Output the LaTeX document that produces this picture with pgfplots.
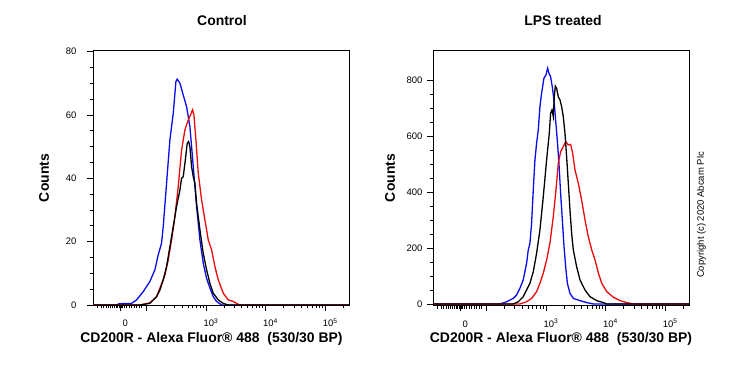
\documentclass[border=0pt]{standalone}
\usepackage{pgfplots}
\pgfplotsset{compat=1.18}
\usepackage{fontspec}
\setmainfont{Liberation Sans}
\definecolor{fblue}{RGB}{10,10,235}
\definecolor{fred}{RGB}{235,10,10}
\begin{document}
\begin{tikzpicture}
\useasboundingbox (0bp,0bp) rectangle (739bp,370bp);
\pgfplotsset{
 flow/.style={
  scale only axis, width=256bp, height=255bp,
  xmin=1.105, xmax=5.40,
  axis line style={line width=0.8pt},
  tick align=outside, tick pos=left,
  major tick length=6bp, minor tick length=3.5bp,
  every tick/.style={black, line width=0.7pt},
  xtick={1.563,2,3,4,5},
  xticklabels={0,,10\textsuperscript{3},10\textsuperscript{4},10\textsuperscript{5}},
  minor xtick={1.185,1.240,1.286,1.324,1.365,1.398,1.437,1.466,1.492,1.521,1.546,1.58,1.597,1.634,1.672,1.718,1.756,1.802,1.840,1.886,1.924,2.301,2.477,2.602,2.699,2.778,2.845,2.903,2.954,3.301,3.477,3.602,3.699,3.778,3.845,3.903,3.954,4.301,4.477,4.602,4.699,4.778,4.845,4.903,4.954,5.301},
  tick label style={font=\fontsize{9.5}{10}\selectfont},
  xticklabel style={anchor=base, xshift=5bp, yshift=-16bp},
  /pgf/number format/assume math mode=true,
  every axis plot/.append style={line width=1.3bp, no marks},
 }
}
% ---------- Control ----------
\begin{axis}[flow, at={(93bp,65bp)}, anchor=south west,
  ymin=0, ymax=80.5, ytick={0,20,40,60,80}, minor y tick num=3,
  yticklabel style={anchor=east, xshift=-7bp}]
\addplot[fblue] coordinates {
(1.105,0)(1.499,0)(1.543,0.4)(1.751,0.5)(1.835,1.6)(1.947,4.2)(2.059,7.4)(2.143,11.1)(2.199,15.8)(2.255,19.5)(2.283,24.7)(2.339,38.4)(2.395,52.1)(2.451,60.5)(2.496,70.5)(2.518,71.3)(2.563,70.0)(2.619,66.3)(2.675,62.6)(2.731,56.3)(2.787,43.7)(2.843,31.1)(2.899,20.5)(2.955,13.2)(3.011,8.4)(3.067,5.3)(3.123,2.6)(3.179,1.1)(3.263,0)(5.40,0)};
\addplot[fred] coordinates {
(1.105,0)(1.891,0)(2.059,0.7)(2.171,2.6)(2.227,5.3)(2.311,9.5)(2.367,14.2)(2.423,20.5)(2.479,27.9)(2.535,37.4)(2.591,48.9)(2.647,55.3)(2.703,58.4)(2.742,60.0)(2.776,61.6)(2.798,60.0)(2.832,52.1)(2.871,41.6)(2.927,33.2)(2.983,26.8)(3.039,20.5)(3.095,17.4)(3.151,12.1)(3.207,7.9)(3.291,3.7)(3.375,1.6)(3.459,1.1)(3.543,0.2)(3.599,0)(5.40,0)};
\addplot[black] coordinates {
(1.105,0)(1.891,0)(2.059,0.5)(2.171,2.6)(2.227,4.7)(2.283,7.9)(2.339,12.1)(2.395,18.4)(2.451,24.7)(2.507,31.1)(2.563,36.3)(2.591,40.0)(2.619,40.5)(2.647,44.7)(2.686,51.1)(2.709,51.6)(2.731,50.0)(2.759,43.7)(2.787,40.5)(2.815,38.4)(2.843,32.1)(2.899,23.7)(2.955,16.3)(3.011,11.1)(3.067,6.8)(3.123,3.7)(3.207,1.6)(3.291,0.5)(3.375,0)(5.40,0)};
\end{axis}
% ---------- LPS treated ----------
\begin{axis}[flow, at={(433bp,65bp)}, anchor=south west,
  ymin=-3.6, ymax=907, ytick={0,200,400,600,800}, minor y tick num=3,
  yticklabel style={anchor=east, xshift=-1bp}]
\addplot[fblue] coordinates {
(1.105,0)(2.227,0)(2.339,8)(2.451,20)(2.507,32)(2.563,56)(2.619,86)(2.675,145)(2.703,193)(2.731,217)(2.759,288)(2.787,407)(2.815,514)(2.843,574)(2.871,621)(2.899,705)(2.927,752)(2.966,806)(3.000,818)(3.028,842)(3.050,824)(3.078,812)(3.106,776)(3.134,729)(3.162,657)(3.190,586)(3.218,502)(3.246,395)(3.275,300)(3.303,205)(3.331,133)(3.359,74)(3.403,38)(3.459,20)(3.571,12)(3.683,5)(3.796,0)(5.40,0)};
\addplot[fred] coordinates {
(1.105,0)(2.563,0)(2.675,8)(2.759,20)(2.843,44)(2.899,74)(2.955,110)(3.011,157)(3.067,217)(3.123,312)(3.168,407)(3.207,502)(3.246,544)(3.291,562)(3.331,580)(3.375,568)(3.415,570)(3.448,538)(3.487,479)(3.543,431)(3.599,371)(3.655,300)(3.711,240)(3.768,193)(3.824,157)(3.880,110)(3.936,74)(4.020,44)(4.132,24)(4.244,12)(4.356,5)(4.468,0)(5.40,0)};
\addplot[black] coordinates {
(1.105,0)(2.451,0)(2.535,8)(2.619,26)(2.675,50)(2.731,74)(2.787,115)(2.843,181)(2.899,264)(2.955,383)(3.011,514)(3.056,610)(3.078,681)(3.101,693)(3.123,669)(3.140,740)(3.157,778)(3.179,770)(3.207,740)(3.235,729)(3.263,705)(3.291,669)(3.319,610)(3.347,526)(3.375,431)(3.403,336)(3.431,252)(3.459,193)(3.515,133)(3.571,86)(3.655,50)(3.739,26)(3.852,12)(3.964,5)(4.020,0)(5.40,0)};
\end{axis}
% ---------- texts ----------
\node[font=\bfseries\fontsize{14}{16}\selectfont] at (222bp,349bp) {Control};
\node[font=\bfseries\fontsize{14}{16}\selectfont] at (563bp,349bp) {LPS treated};
\node[font=\bfseries\fontsize{14}{16}\selectfont] at (211.5bp,31.5bp) {CD200R - Alexa Fluor® 488\ \ (530/30 BP)};
\node[font=\bfseries\fontsize{14}{16}\selectfont] at (561bp,31.5bp) {CD200R - Alexa Fluor® 488\ \ (530/30 BP)};
\node[font=\bfseries\fontsize{14}{16}\selectfont, rotate=90] at (44bp,192bp) {Counts};
\node[font=\bfseries\fontsize{14}{16}\selectfont, rotate=90] at (390bp,192bp) {Counts};
\node[font=\fontsize{9.5}{11}\selectfont, rotate=90] at (701.5bp,155bp) {Copyright (c) 2020 Abcam Plc};
\end{tikzpicture}
\end{document}
